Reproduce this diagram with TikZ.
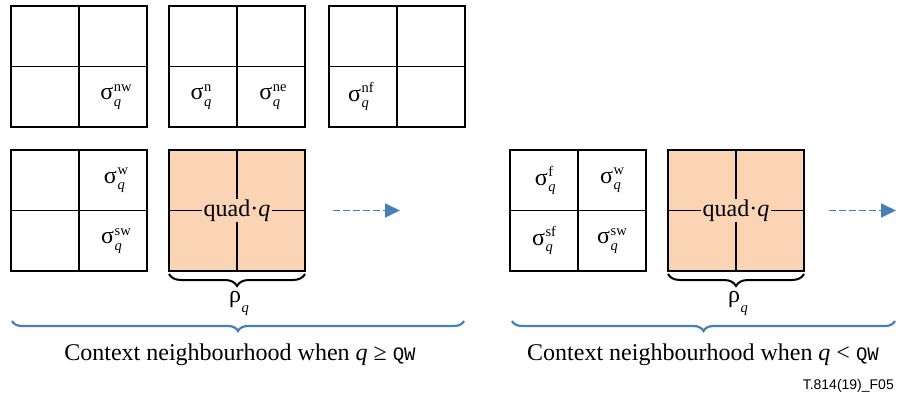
\documentclass[tikz,border=0pt]{standalone}
\usepackage{fontspec}
\setmainfont{Liberation Serif}
\newfontfamily\codefont{Liberation Mono}
\newfontfamily\tagfont{Liberation Sans}
\usetikzlibrary{decorations.pathreplacing,arrows.meta}

\definecolor{quadfill}{RGB}{250,212,180}
\definecolor{flowblue}{RGB}{74,126,187}

% sigma with stacked superscript and italic q subscript
\newcommand{\sig}[1]{σ\kern0.6pt{\fontsize{14.5}{14.5}\selectfont
  \raisebox{-0.42em}{\rlap{\textit{q}}}\raisebox{0.6em}{#1}}}
% rho with italic q subscript
\newcommand{\rhoq}{ρ\kern0.4pt\raisebox{-0.42em}{\fontsize{14.5}{14.5}\selectfont\textit{q}}}
% four-cell grid: name, left x, top y, extra cell style
\newcommand{\quadgrid}[4]{%
  \node[cell,#4,anchor=north west] (#1-nw) at (#2,#3) {};
  \node[cell,#4,anchor=north west] (#1-ne) at (#1-nw.north east) {};
  \node[cell,#4,anchor=north west] (#1-sw) at (#1-nw.south west) {};
  \node[cell,#4,anchor=north west] (#1-se) at (#1-nw.south east) {};}

\tikzset{
  cell/.style={draw=black, line width=1.4pt, minimum width=68pt,
    minimum height=60.5pt, outer sep=0pt, inner sep=0pt},
  cur/.style={fill=quadfill},
  lbl/.style={font=\fontsize{24}{26}\selectfont, inner sep=0pt},
  flow/.style={draw=flowblue, line width=1.6pt, dash pattern=on 6.5pt off 3.5pt,
    -{Triangle[length=15pt,width=14pt,fill=flowblue]}},
  smallbrace/.style={decorate, decoration={brace, mirror, amplitude=12pt},
    line width=2pt, draw=black},
  bigbrace/.style={decorate, decoration={brace, mirror, amplitude=10pt},
    line width=2.2pt, draw=flowblue},
  caption/.style={font=\fontsize{24}{26}\selectfont, inner sep=0pt},
}

\begin{document}
\begin{tikzpicture}[x=1pt, y=-1pt]
\useasboundingbox (0,0) rectangle (901,401);

% previous row of quads
\quadgrid{nwq}{11}{6}{}
\quadgrid{nq}{169}{6}{}
\quadgrid{nfq}{329}{6}{}
% current row, left panel
\quadgrid{wq}{11}{150}{}
\quadgrid{cq}{169}{150}{cur}
% current row, right panel
\quadgrid{fwq}{510}{150}{}
\quadgrid{fcq}{668}{150}{cur}

% neighbour labels
\node[lbl] (snw) at ([xshift=3pt]nwq-se) {\sig{nw}};
\node[lbl] (sn)  at ([xshift=-2pt]nq-sw)  {\sig{n}};
\node[lbl] (sne) at ([xshift=2pt]nq-se)  {\sig{ne}};
\node[lbl] (snf) at ([xshift=-2pt]nfq-sw) {\sig{nf}};
\node[lbl] (sw1) at ([xshift=3pt]wq-ne)  {\sig{w}};
\node[lbl] (ssw1) at ([xshift=3pt]wq-se) {\sig{sw}};
\node[lbl] (sf)  at (fwq-nw) {\sig{f}};
\node[lbl] (sw2) at (fwq-ne) {\sig{w}};
\node[lbl] (ssf) at (fwq-sw) {\sig{sf}};
\node[lbl] (ssw2) at (fwq-se) {\sig{sw}};

% current quad labels
\node[lbl, fill=quadfill, inner xsep=1.5pt, inner ysep=1pt] (quad1) at (cq-nw.south east) {quad·\textit{q}};
\node[lbl, fill=quadfill, inner xsep=1.5pt, inner ysep=1pt] (quad2) at (fcq-nw.south east) {quad·\textit{q}};

% scan direction
\coordinate (a1s) at (333,210.5);
\coordinate (a1e) at (400,210.5);
\coordinate (a2s) at (829,210.5);
\coordinate (a2e) at (896,210.5);
\draw[flow] (a1s) -- (a1e);
\draw[flow] (a2s) -- (a2e);

% rho braces
\draw[smallbrace] ([yshift=-3pt]cq-sw.south west) -- ([yshift=-3pt]cq-se.south east);
\node[lbl, anchor=north] (rho1) at (239,291) {\rhoq};
\draw[smallbrace] ([yshift=-3pt]fcq-sw.south west) -- ([yshift=-3pt]fcq-se.south east);
\node[lbl, anchor=north] (rho2) at (738,291) {\rhoq};

% context braces
\coordinate (b1s) at (12,321);
\coordinate (b1e) at (464,321);
\coordinate (b2s) at (512,321);
\coordinate (b2e) at (895,321);
\draw[bigbrace] (b1s) -- (b1e);
\draw[bigbrace] (b2s) -- (b2e);

\node[caption] (cap1) at (240,355) {Context neighbourhood when \textit{q} ≥ {\codefont\fontsize{19}{20}\selectfont QW}};
\node[caption] (cap2) at (703,355) {Context neighbourhood when \textit{q} < {\codefont\fontsize{19}{20}\selectfont QW}};

\node[anchor=east, font=\tagfont\fontsize{14}{16}\selectfont, inner sep=0pt] (tag) at (894,386) {T.814(19)\_F05};
\end{tikzpicture}
\end{document}
